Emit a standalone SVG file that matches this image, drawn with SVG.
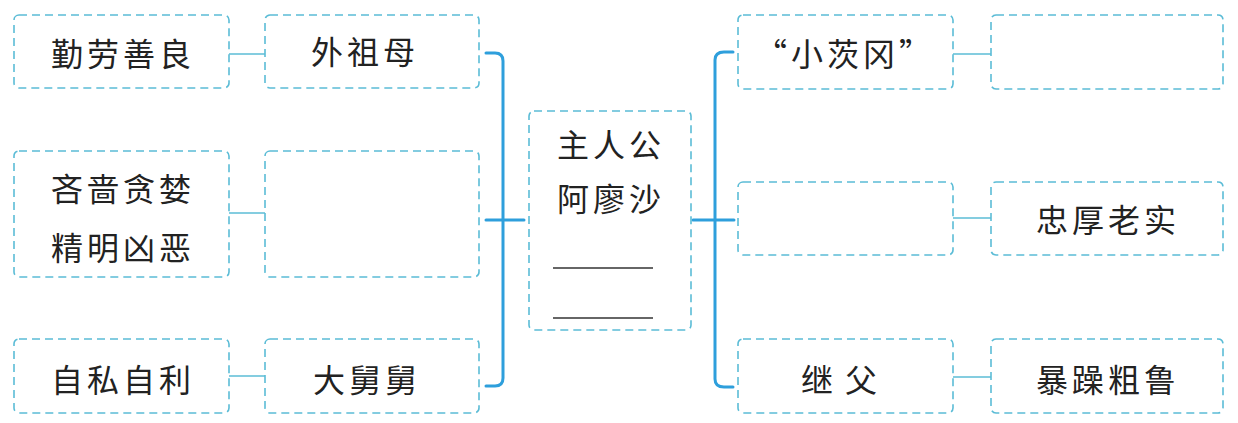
<svg xmlns="http://www.w3.org/2000/svg" width="1238" height="423" viewBox="0 0 1238 423">
<style>
.box{fill:#fff;stroke:#5bbcd6;stroke-width:1.6;stroke-dasharray:8 5}
.lnk{stroke:#5bbcd6;stroke-width:1.6;fill:none}
.br{stroke:#2e9fdc;stroke-width:3;fill:none;stroke-linecap:round}
.t{font-family:"Noto Sans CJK SC","Noto Sans CJK JP",sans-serif;font-size:32px;fill:#222;text-anchor:middle;dominant-baseline:central;letter-spacing:4px}
.blank{stroke:#333;stroke-width:1.6}
</style>
<rect width="1238" height="423" fill="#fff"/>
<g id="connectors">
<line class="lnk" x1="229" y1="54" x2="265" y2="54"/>
<line class="lnk" x1="229" y1="213" x2="265" y2="213"/>
<line class="lnk" x1="229" y1="376" x2="265" y2="376"/>
<path class="br" d="M486 53 H495 Q503 53 503 61 V378 Q503 386 495 386 H486"/>
<line class="br" x1="486" y1="220" x2="524" y2="220"/>
<path class="br" d="M733 52 H724 Q715 52 715 60 V379 Q715 387 724 387 H733"/>
<line class="br" x1="693" y1="220" x2="734" y2="220"/>
<line class="lnk" x1="953" y1="54" x2="991" y2="54"/>
<line class="lnk" x1="953" y1="218" x2="991" y2="218"/>
<line class="lnk" x1="953" y1="377" x2="991" y2="377"/>
</g>
<g id="n-qinlao"><rect class="box" x="14" y="15" width="215" height="73" rx="5"/><text class="t" x="123" y="52">勤劳善良</text></g>
<g id="n-waizumu"><rect class="box" x="265" y="15" width="214" height="73" rx="5"/><text class="t" x="365" y="50">外祖母</text></g>
<g id="n-linse"><rect class="box" x="14" y="151" width="215" height="126" rx="5"/><text class="t" x="123" y="187">吝啬贪婪</text><text class="t" x="123" y="246">精明凶恶</text></g>
<g id="n-blank-left"><rect class="box" x="265" y="151" width="214" height="126" rx="5"/></g>
<g id="n-zisi"><rect class="box" x="14" y="339" width="215" height="74" rx="5"/><text class="t" x="123" y="378">自私自利</text></g>
<g id="n-dajiujiu"><rect class="box" x="265" y="339" width="214" height="74" rx="5"/><text class="t" x="367" y="378">大舅舅</text></g>
<g id="n-center"><rect class="box" x="529" y="111" width="162" height="219" rx="5"/><text class="t" x="611" y="143">主人公</text><text class="t" x="611" y="197">阿廖沙</text><line class="blank" x1="553" y1="268" x2="653" y2="268"/><line class="blank" x1="553" y1="318" x2="653" y2="318"/></g>
<g id="n-xiaocigang"><rect class="box" x="738" y="15" width="215" height="74" rx="5"/><text class="t" x="845" y="52">“小茨冈”</text></g>
<g id="n-blank-r1"><rect class="box" x="991" y="15" width="232" height="74" rx="5"/></g>
<g id="n-blank-r2"><rect class="box" x="738" y="182" width="215" height="73" rx="5"/></g>
<g id="n-zhonghou"><rect class="box" x="991" y="182" width="232" height="73" rx="5"/><text class="t" x="1108" y="218">忠厚老实</text></g>
<g id="n-jifu"><rect class="box" x="738" y="339" width="215" height="74" rx="5"/><text class="t" x="845" y="378" style="letter-spacing:12px">继父</text></g>
<g id="n-baozao"><rect class="box" x="991" y="339" width="232" height="74" rx="5"/><text class="t" x="1108" y="378">暴躁粗鲁</text></g>
</svg>
